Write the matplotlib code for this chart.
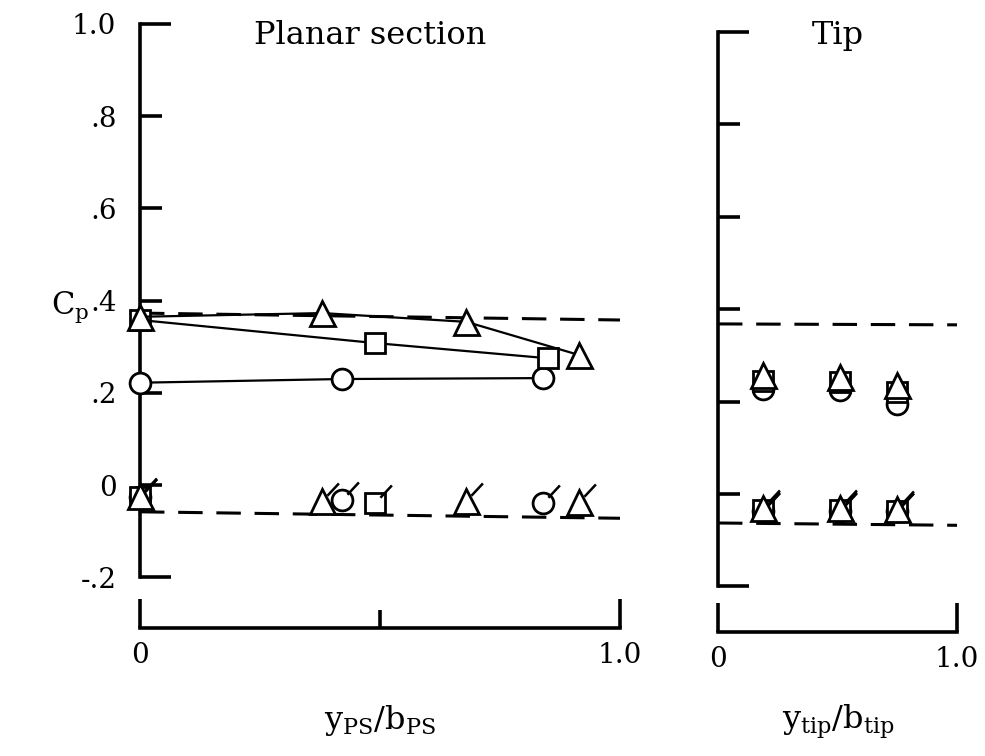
import numpy as np
import matplotlib
matplotlib.use('Agg')
import matplotlib.pyplot as plt
from matplotlib.path import Path
from matplotlib.ticker import FixedLocator, FixedFormatter

plt.rcParams['font.family'] = 'DejaVu Serif'
plt.rcParams['mathtext.fontset'] = 'dejavuserif'

# planar section, upper surface (open symbols, faired)
ps_circle_x = [0.0, 0.42, 0.84]
ps_circle_cp = [0.222, 0.230, 0.232]
ps_square_x = [0.0, 0.49, 0.85]
ps_square_cp = [0.358, 0.308, 0.275]
ps_tri_x = [0.0, 0.38, 0.68, 0.915]
ps_tri_cp = [0.365, 0.373, 0.354, 0.282]

# planar section, lower surface (flagged symbols)
ps_circle_lo_x = [0.0, 0.42, 0.84]
ps_circle_lo_cp = [-0.026, -0.033, -0.039]
ps_square_lo_x = [0.0, 0.49]
ps_square_lo_cp = [-0.026, -0.039]
ps_tri_lo_x = [0.0, 0.38, 0.68, 0.915]
ps_tri_lo_cp = [-0.024, -0.034, -0.034, -0.037]

# tip
tip_x = [0.19, 0.51, 0.75]
tip_tri_cp = [0.258, 0.252, 0.236]
tip_square_cp = [0.245, 0.243, 0.220]
tip_circle_cp = [0.228, 0.224, 0.195]
tip_tri_lo_cp = [-0.030, -0.030, -0.032]
tip_square_lo_cp = [-0.034, -0.034, -0.036]
tip_circle_lo_cp = [-0.036, -0.036, -0.038]

# reference (dashed) lines, end values at 0 and 1
ps_ref_x = [0.0, 1.0]
ps_ref_hi = [0.373, 0.358]
ps_ref_lo = [-0.058, -0.072]
tip_ref_x = [0.0, 1.0]
tip_ref_hi = [0.368, 0.366]
tip_ref_lo = [-0.063, -0.068]

yticks = [-0.2, 0.0, 0.2, 0.4, 0.6, 0.8, 1.0]
ytick_labels = ['-.2', '0', '.2', '.4', '.6', '.8', '1.0']

flag = Path([(0.3, 0.35), (1.0, 1.1)], [Path.MOVETO, Path.LINETO])

fig = plt.figure(figsize=(9.85, 7.56), dpi=100)
ax1 = fig.add_axes([140/985, 1-628/756, 480/985, 604/756])
ax2 = fig.add_axes([718/985, 1-632/756, 239/985, 600/756])

ax1.set_ylim(-0.31, 1.0)
ax2.set_ylim(-0.299, 1.0)

ms_o, ms_s, ms_t = 15, 14, 18
mk = dict(mfc='white', mec='black', mew=2, clip_on=False, zorder=5)
fl = dict(color='black', ls='none', marker=flag, ms=26, mew=1.8, clip_on=False, zorder=6)
dash = dict(color='black', lw=2.2, dashes=(8, 4.5), clip_on=False)

# planar section
ax1.plot(ps_ref_x, ps_ref_hi, **dash)
ax1.plot(ps_ref_x, ps_ref_lo, **dash)
ax1.plot(ps_circle_x, ps_circle_cp, 'o-', color='black', lw=1.6, ms=ms_o, **mk)
ax1.plot(ps_square_x, ps_square_cp, 's-', color='black', lw=1.6, ms=ms_s, **mk)
ax1.plot(ps_tri_x, ps_tri_cp, '^-', color='black', lw=1.6, ms=ms_t, **mk)

for xs, ys, m, s in [(ps_circle_lo_x, ps_circle_lo_cp, 'o', ms_o),
                     (ps_square_lo_x, ps_square_lo_cp, 's', ms_s),
                     (ps_tri_lo_x, ps_tri_lo_cp, '^', ms_t)]:
    ax1.plot(xs, ys, m, ls='none', color='black', ms=s, **mk)
    ax1.plot(xs, ys, **fl)

# tip
ax2.plot(tip_ref_x, tip_ref_hi, **dash)
ax2.plot(tip_ref_x, tip_ref_lo, **dash)
for ys, m, s in [(tip_circle_cp, 'o', ms_o), (tip_square_cp, 's', ms_s),
                 (tip_tri_cp, '^', ms_t)]:
    ax2.plot(tip_x, ys, m, ls='none', color='black', ms=s, **mk)
for ys, m, s in [(tip_circle_lo_cp, 'o', ms_o), (tip_square_lo_cp, 's', ms_s),
                 (tip_tri_lo_cp, '^', ms_t)]:
    ax2.plot(tip_x, ys, m, ls='none', color='black', ms=s, **mk)
    ax2.plot(tip_x, ys, **fl)

for ax in (ax1, ax2):
    ax.set_xlim(0, 1)
    ax.patch.set_alpha(0)
    ax.spines['top'].set_visible(False)
    ax.spines['right'].set_visible(False)
    ax.spines['left'].set_bounds(-0.2, 1.0)
    ax.spines['left'].set_linewidth(2.6)
    ax.spines['bottom'].set_linewidth(2.6)
    # y axis: long end ticks, shorter inner ticks
    ax.yaxis.set_major_locator(FixedLocator([-0.2, 1.0]))
    ax.yaxis.set_minor_locator(FixedLocator(yticks[1:-1]))
    ax.tick_params(axis='y', which='major', direction='in', length=22, width=2.6, pad=17, labelsize=20)
    ax.tick_params(axis='y', which='minor', direction='in', length=16, width=2.6, pad=17, labelsize=20)
    ax.tick_params(axis='x', which='major', direction='in', length=21, width=2.6, pad=10, labelsize=20)
    ax.tick_params(axis='x', which='minor', direction='in', length=13, width=2.6)
    ax.xaxis.set_major_locator(FixedLocator([0, 1.0]))
    ax.xaxis.set_major_formatter(FixedFormatter(['0', '1.0']))

ax1.yaxis.set_major_formatter(FixedFormatter([ytick_labels[0], ytick_labels[-1]]))
ax1.yaxis.set_minor_formatter(FixedFormatter(ytick_labels[1:-1]))
ax1.xaxis.set_minor_locator(FixedLocator([0.5]))
ax2.yaxis.set_major_formatter(FixedFormatter(['', '']))
ax2.yaxis.set_minor_formatter(FixedFormatter([''] * 5))

ax1.text(0.479, 0.976, 'Planar section', ha='center', va='center', fontsize=23)
ax2.text(0.50, 0.993, 'Tip', ha='center', va='center', fontsize=23)

fig.text(70/985, 1-307/756, r'$\mathrm{C_p}$', ha='center', va='center', fontsize=22)
fig.text(380/985, 1-720/756, r'$\mathrm{y_{PS}/b_{PS}}$', ha='center', va='center', fontsize=23)
fig.text(838/985, 1-722/756, r'$\mathrm{y_{tip}/b_{tip}}$', ha='center', va='center', fontsize=23)

fig.savefig('out.png', dpi=100)
